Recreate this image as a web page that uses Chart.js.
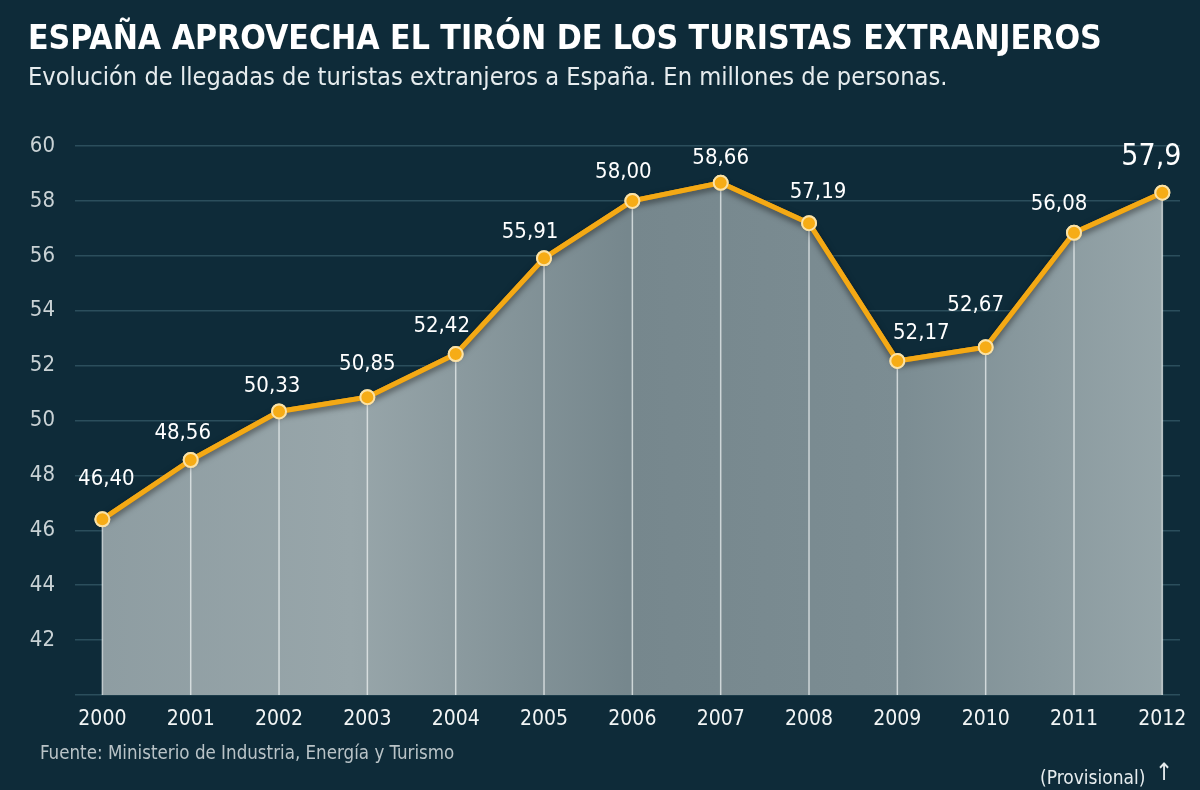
<!DOCTYPE html>
<html>
<head>
<meta charset="utf-8">
<script src="https://cdn.jsdelivr.net/npm/chart.js@4.4.0/dist/chart.umd.min.js"></script>
<style>
  html, body { margin: 0; padding: 0; background: #0e2b39; }
  #wrap { position: relative; width: 1200px; height: 790px; overflow: hidden; background: #0e2b39; }
  #c { position: absolute; left: 0; top: 0; }
  .txt { position: absolute; white-space: nowrap; font-family: "Liberation Sans Narrow", "DejaVu Sans Condensed", "Roboto", sans-serif; }
  #title { left: 28px; top: 18px; font-size: 33.5px; font-weight: bold; color: #ffffff; }
  #subtitle { left: 28px; top: 62px; font-size: 25.2px; color: #e6ecee; }
  #source { left: 40px; top: 742px; font-size: 18.6px; color: #b9c3c7; }
  #prov { left: 1040px; top: 766px; font-size: 19px; color: #e6ecee; }
  #arrow { left: 1155px; top: 758px; font-size: 24px; color: #e6ecee; }
</style>
</head>
<body>
<div id="wrap">
  <canvas id="c" width="1200" height="790"></canvas>
  <div class="txt" id="title">ESPAÑA APROVECHA EL TIRÓN DE LOS TURISTAS EXTRANJEROS</div>
  <div class="txt" id="subtitle">Evolución de llegadas de turistas extranjeros a España. En millones de personas.</div>
  <div class="txt" id="source">Fuente: Ministerio de Industria, Energía y Turismo</div>
  <div class="txt" id="prov">(Provisional)</div>
  <div class="txt" id="arrow">↑</div>
</div>
<script>
// ---- data ----
const years = ["2000","2001","2002","2003","2004","2005","2006","2007","2008","2009","2010","2011","2012"];
const arrivals = [46.40, 48.56, 50.33, 50.85, 52.42, 55.91, 58.00, 58.66, 57.19, 52.17, 52.67, 56.84, 58.30];
const valueLabels = ["46,40","48,56","50,33","50,85","52,42","55,91","58,00","58,66","57,19","52,17","52,67","56,08","57,9"];
const yTicks = [42, 44, 46, 48, 50, 52, 54, 56, 58, 60];

const FONT = "'Liberation Sans Narrow', 'DejaVu Sans Condensed', Roboto, sans-serif";

// label placement (style only, relative to each point)
const labelStyle = {
  dx: [4, -8, -7, 0, -14, -14, -9, 0, 9, 24, -10, -15, -11],
  dy: [-40, -27, -25, -33, -28, -26, -29, -25, -31, -28, -42, -28, -35],
  big: [false,false,false,false,false,false,false,false,false,false,false,false,true]
};

const dropLines = {
  id: 'dropLines',
  afterDatasetsDraw(chart) {
    const ctx = chart.ctx;
    const meta = chart.getDatasetMeta(0);
    const ya = chart.scales.y;
    ctx.save();
    ctx.strokeStyle = 'rgba(235,240,240,0.75)';
    ctx.lineWidth = 1.5;
    meta.data.forEach((p) => {
      ctx.beginPath();
      ctx.moveTo(p.x, p.y);
      ctx.lineTo(p.x, ya.getPixelForValue(40));
      ctx.stroke();
    });
    ctx.restore();
  }
};

const valueLabelsPlugin = {
  id: 'valueLabels',
  afterDraw(chart) {
    const ctx = chart.ctx;
    const meta = chart.getDatasetMeta(0);
    ctx.save();
    ctx.textAlign = 'center';
    ctx.textBaseline = 'middle';
    ctx.fillStyle = '#ffffff';
    meta.data.forEach((p, i) => {
      ctx.font = (labelStyle.big[i] ? '30px ' : '22px ') + FONT;
      ctx.fillText(valueLabels[i], p.x + labelStyle.dx[i], p.y + labelStyle.dy[i]);
    });
    ctx.restore();
  }
};

// line + points drawn again on top of the drop lines
const lineOnTop = {
  id: 'lineOnTop',
  afterDatasetsDraw(chart) {
    const meta = chart.getDatasetMeta(1);
    const ctx = chart.ctx;
    ctx.save();
    ctx.shadowColor = 'rgba(0,0,0,0.55)';
    ctx.shadowBlur = 6;
    ctx.shadowOffsetY = 3;
    meta.dataset.draw(ctx, chart.chartArea);
    ctx.shadowColor = 'rgba(0,0,0,0)';
    meta.data.forEach(pt => pt.draw(ctx, chart.chartArea));
    ctx.restore();
  }
};

const ctx = document.getElementById('c').getContext('2d');

function photoFill(context) {
  const chart = context.chart;
  const area = chart.chartArea;
  if (!area) return 'rgba(120,135,140,1)';
  const g = chart.ctx.createLinearGradient(area.left, 0, area.right, 0);
  g.addColorStop(0.00, '#8d9ca1');
  g.addColorStop(0.25, '#98a6aa');
  g.addColorStop(0.50, '#76878d');
  g.addColorStop(0.75, '#7c8d93');
  g.addColorStop(1.00, '#98a7ab');
  return g;
}

const points = arrivals.map((v, i) => ({ x: i, y: v }));

new Chart(ctx, {
  type: 'line',
  data: {
    datasets: [
      {
        data: points,
        borderWidth: 0,
        borderColor: 'rgba(0,0,0,0)',
        backgroundColor: photoFill,
        fill: 'origin',
        pointRadius: 0,
        tension: 0,
        order: 2
      },
      {
        data: points,
        borderColor: '#f4a915',
        borderWidth: 5,
        fill: false,
        tension: 0,
        pointRadius: 7,
        pointBackgroundColor: '#f6ac16',
        pointBorderColor: '#fbe2a6',
        pointBorderWidth: 2,
        order: 1
      }
    ]
  },
  options: {
    responsive: false,
    animation: false,
    devicePixelRatio: 1,
    layout: { padding: { top: 146, right: 20, bottom: 55, left: 0 } },
    plugins: {
      legend: { display: false },
      tooltip: { enabled: false },
      title: { display: false }
    },
    scales: {
      x: {
        type: 'linear',
        min: -0.31,
        max: 12.2,
        afterBuildTicks: (scale) => { scale.ticks = years.map((_, i) => ({ value: i })); },
        afterFit: (scale) => { scale.height = 40; },
        grid: { display: false, drawTicks: false },
        border: { display: false },
        ticks: {
          padding: 12,
          color: '#f2f5f5',
          font: { family: FONT, size: 21 },
          callback: (v) => years[v] ?? ''
        }
      },
      y: {
        min: 40,
        max: 60,
        afterBuildTicks: (scale) => { scale.ticks = [40].concat(yTicks).map(v => ({ value: v })); },
        afterFit: (scale) => { scale.width = 75; },
        grid: { color: '#2b4e5c', lineWidth: 1.5, drawTicks: false },
        border: { display: false },
        ticks: {
          padding: 20,
          color: '#c9d2d5',
          font: { family: FONT, size: 22 },
          callback: (v) => (v === 40 ? '' : String(v))
        }
      }
    }
  },
  plugins: [dropLines, lineOnTop, valueLabelsPlugin]
});
</script>
</body>
</html>
